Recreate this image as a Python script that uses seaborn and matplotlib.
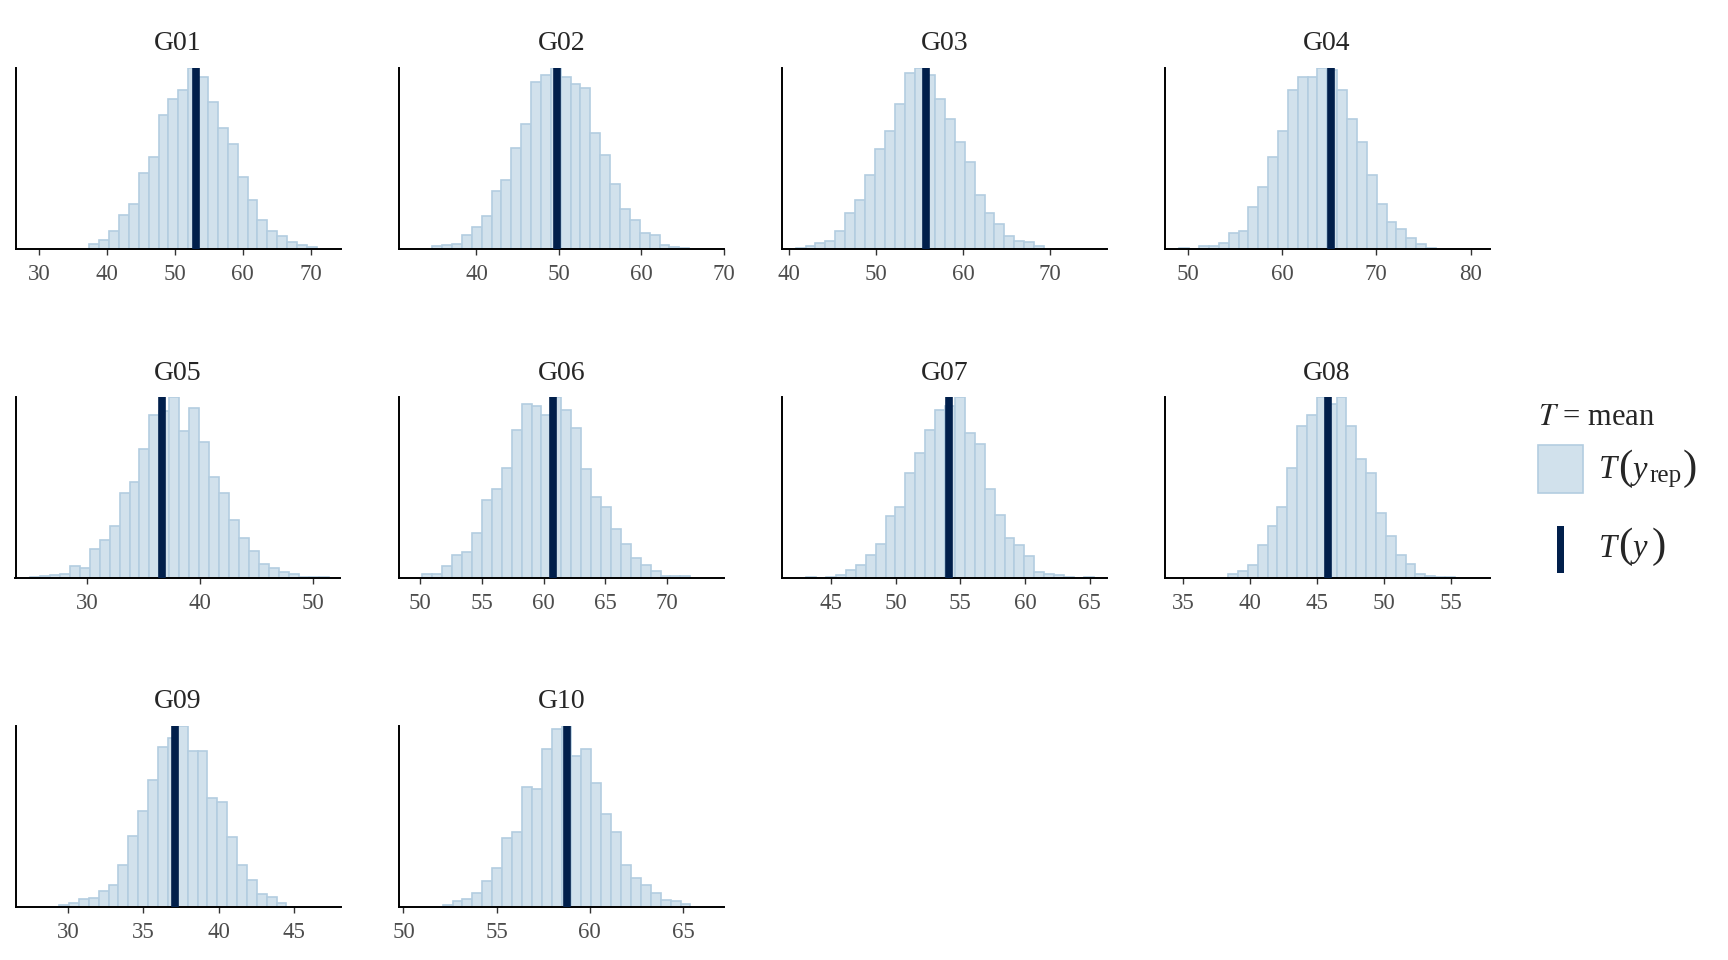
import numpy as np
import pandas as pd
import matplotlib
matplotlib.use("Agg")
import matplotlib.pyplot as plt
from matplotlib.patches import Rectangle
import seaborn as sns

# groups shown in the facets
groups = ["G01", "G02", "G03", "G04", "G05", "G06", "G07", "G08", "G09", "G10"]

# T(y_rep) histogram heights (relative, tallest bar = 100)
h_G01 = [3, 5, 10, 19, 25, 42, 51, 74, 83, 88, 100, 95, 81, 67, 58, 40, 27, 16, 10, 7, 4, 2, 1]
h_G02 = [1.5, 2, 3, 8, 12, 18, 32, 38, 56, 69, 92, 96, 100, 95, 91, 89, 64, 52, 36, 22, 16, 9, 8, 2, 1.3, 0.7]
h_G03 = [0.7, 1.7, 3.3, 4.4, 10, 20, 27, 41, 55, 65, 80, 97, 100, 96, 83, 72, 59, 48, 30, 20, 14, 7, 4.4, 3.7, 1.7]
h_G04 = [0.7, 0, 1.5, 1.8, 3.5, 9, 10, 23, 34, 51, 65, 88, 95, 95, 100, 99, 88, 72, 59, 41, 25, 15, 11, 6, 2.8, 0.7]
h_G05 = [0.6, 1.1, 1.7, 2, 6.4, 5.5, 16, 21, 29, 47, 53, 71, 90, 92, 100, 81, 94, 75, 56, 47, 32, 22, 15, 7.5, 5.5, 3.5, 2, 0.6, 0.4, 0.6]
h_G06 = [2, 2, 6.6, 12.5, 14.5, 25, 43, 49, 61, 82, 96, 95, 90, 100, 93, 83, 60, 45, 39, 27, 19, 11, 7, 3.9, 1.3, 0.9, 1.1]
h_G07 = [0.6, 0, 0.7, 1.7, 4.4, 7, 12.7, 18.8, 34, 39, 58, 69, 82, 93, 95, 100, 80, 74, 49, 35, 22, 18, 12, 3.5, 2.2, 1.5, 0.7, 0, 0.6]
h_G08 = [2.2, 3.9, 7, 18, 29, 39, 61, 84, 90, 100, 96, 100, 84, 66, 58, 36, 23, 12.7, 7.5, 2.4, 1.3, 0.6, 0.7]
h_G09 = [0.9, 1.8, 4.2, 4.6, 8.6, 12, 23, 39, 53, 70, 88, 93, 100, 86, 86, 60, 58, 38.5, 23, 14.4, 6.8, 5.3, 2.2]
h_G10 = [0.9, 2.8, 4, 7.7, 14.3, 21, 37.6, 41, 66, 65, 87, 98, 100, 83, 87, 68, 51, 41, 23, 16, 12, 7.7, 3.5, 2.9, 1.5]
heights = [h_G01, h_G02, h_G03, h_G04, h_G05, h_G06, h_G07, h_G08, h_G09, h_G10]

# first bin edge and bin width of each histogram
bin_start = [37.42, 34.63, 40.8, 49.12, 24.97, 50.19, 43.08, 38.36, 29.4, 52.1]
bin_width = [1.455, 1.2, 1.14, 1.046, 0.88, 0.803, 0.767, 0.737, 0.657, 0.532]

# observed statistic T(y) = mean
t_obs = [53.05, 49.83, 55.73, 65.21, 36.67, 60.75, 54.11, 45.81, 37.08, 58.77]

x_lims = [(26.56, 74.37), (30.6, 70.05), (39.24, 76.5), (47.55, 82.0), (23.7, 52.4),
          (48.3, 74.6), (41.2, 66.35), (33.6, 57.9), (26.5, 48.1), (49.76, 67.2)]
x_ticks = [[30, 40, 50, 60, 70], [40, 50, 60, 70], [40, 50, 60, 70], [50, 60, 70, 80],
           [30, 40, 50], [50, 55, 60, 65, 70], [45, 50, 55, 60, 65], [35, 40, 45, 50, 55],
           [30, 35, 40, 45], [50, 55, 60, 65]]

light = "#d1e1ec"
light_hl = "#b3cde0"
dark_hl = "#011f4b"

sns.set_style("ticks")
plt.rcParams["font.family"] = ["Liberation Serif", "DejaVu Serif"]
plt.rcParams["mathtext.fontset"] = "stix"

W, H = 1728, 960
fig = plt.figure(figsize=(W / 100, H / 100), dpi=100)

lefts = [15.5, 399, 782, 1164.5]
tops = [68, 397, 725.5]
pw, ph = 325, 181

for i, g in enumerate(groups):
    r, c = divmod(i, 4)
    ax = fig.add_axes([lefts[c] / W, 1 - (tops[r] + ph) / H, pw / W, ph / H])
    h = np.array(heights[i], dtype=float)
    edges = bin_start[i] + bin_width[i] * np.arange(len(h) + 1)
    df = pd.DataFrame({"stat": edges[:-1] + bin_width[i] / 2, "n": h})
    sns.histplot(data=df, x="stat", weights="n", bins=edges.tolist(), ax=ax,
                 facecolor=light, edgecolor=light_hl, linewidth=1.2, alpha=1)
    ax.axvline(t_obs[i], color=dark_hl, lw=5.5, zorder=5)
    ax.set_xlim(*x_lims[i])
    ax.set_ylim(0, h.max())
    ax.set_xticks(x_ticks[i])
    ax.set_yticks([])
    ax.set_xlabel("")
    ax.set_ylabel("")
    ax.set_title(g, fontsize=20, pad=12.6)
    for s in ["top", "right"]:
        ax.spines[s].set_visible(False)
    for s in ["left", "bottom"]:
        ax.spines[s].set_color("black")
        ax.spines[s].set_linewidth(1.4)
    ax.tick_params(axis="x", length=4, width=1, color="#333333",
                   labelsize=16.5, labelcolor="#4d4d4d", pad=7)

# legend drawn by hand
def px(x, y):
    return x / W, 1 - y / H

fig.text(*px(1538, 425), r"$T$ = mean", fontsize=22, va="baseline", ha="left")
fig.add_artist(Rectangle(px(1538, 493), 45 / W, 48 / H,
                         facecolor=light, edgecolor=light_hl, lw=1.2,
                         transform=fig.transFigure))
fig.add_artist(Rectangle(px(1557, 573), 7 / W, 47 / H,
                         facecolor=dark_hl, edgecolor="none",
                         transform=fig.transFigure))

# T(y_rep) with tall brackets
base = 478.5
fig.text(*px(1599, base), "T", fontsize=23.5, style="italic", va="baseline")
fig.text(*px(1618, base), "(", fontsize=31, va="baseline")
fig.text(*px(1633, base), "y", fontsize=23.5, style="italic", va="baseline")
fig.text(*px(1649, base + 3.5), "rep", fontsize=18, va="baseline")
fig.text(*px(1683, base), ")", fontsize=31, va="baseline")

# T(y)
base = 557
fig.text(*px(1599, base), "T", fontsize=23.5, style="italic", va="baseline")
fig.text(*px(1618, base), "(", fontsize=31, va="baseline")
fig.text(*px(1633, base), "y", fontsize=23.5, style="italic", va="baseline")
fig.text(*px(1652, base), ")", fontsize=31, va="baseline")

fig.savefig("out.png", dpi=100)
